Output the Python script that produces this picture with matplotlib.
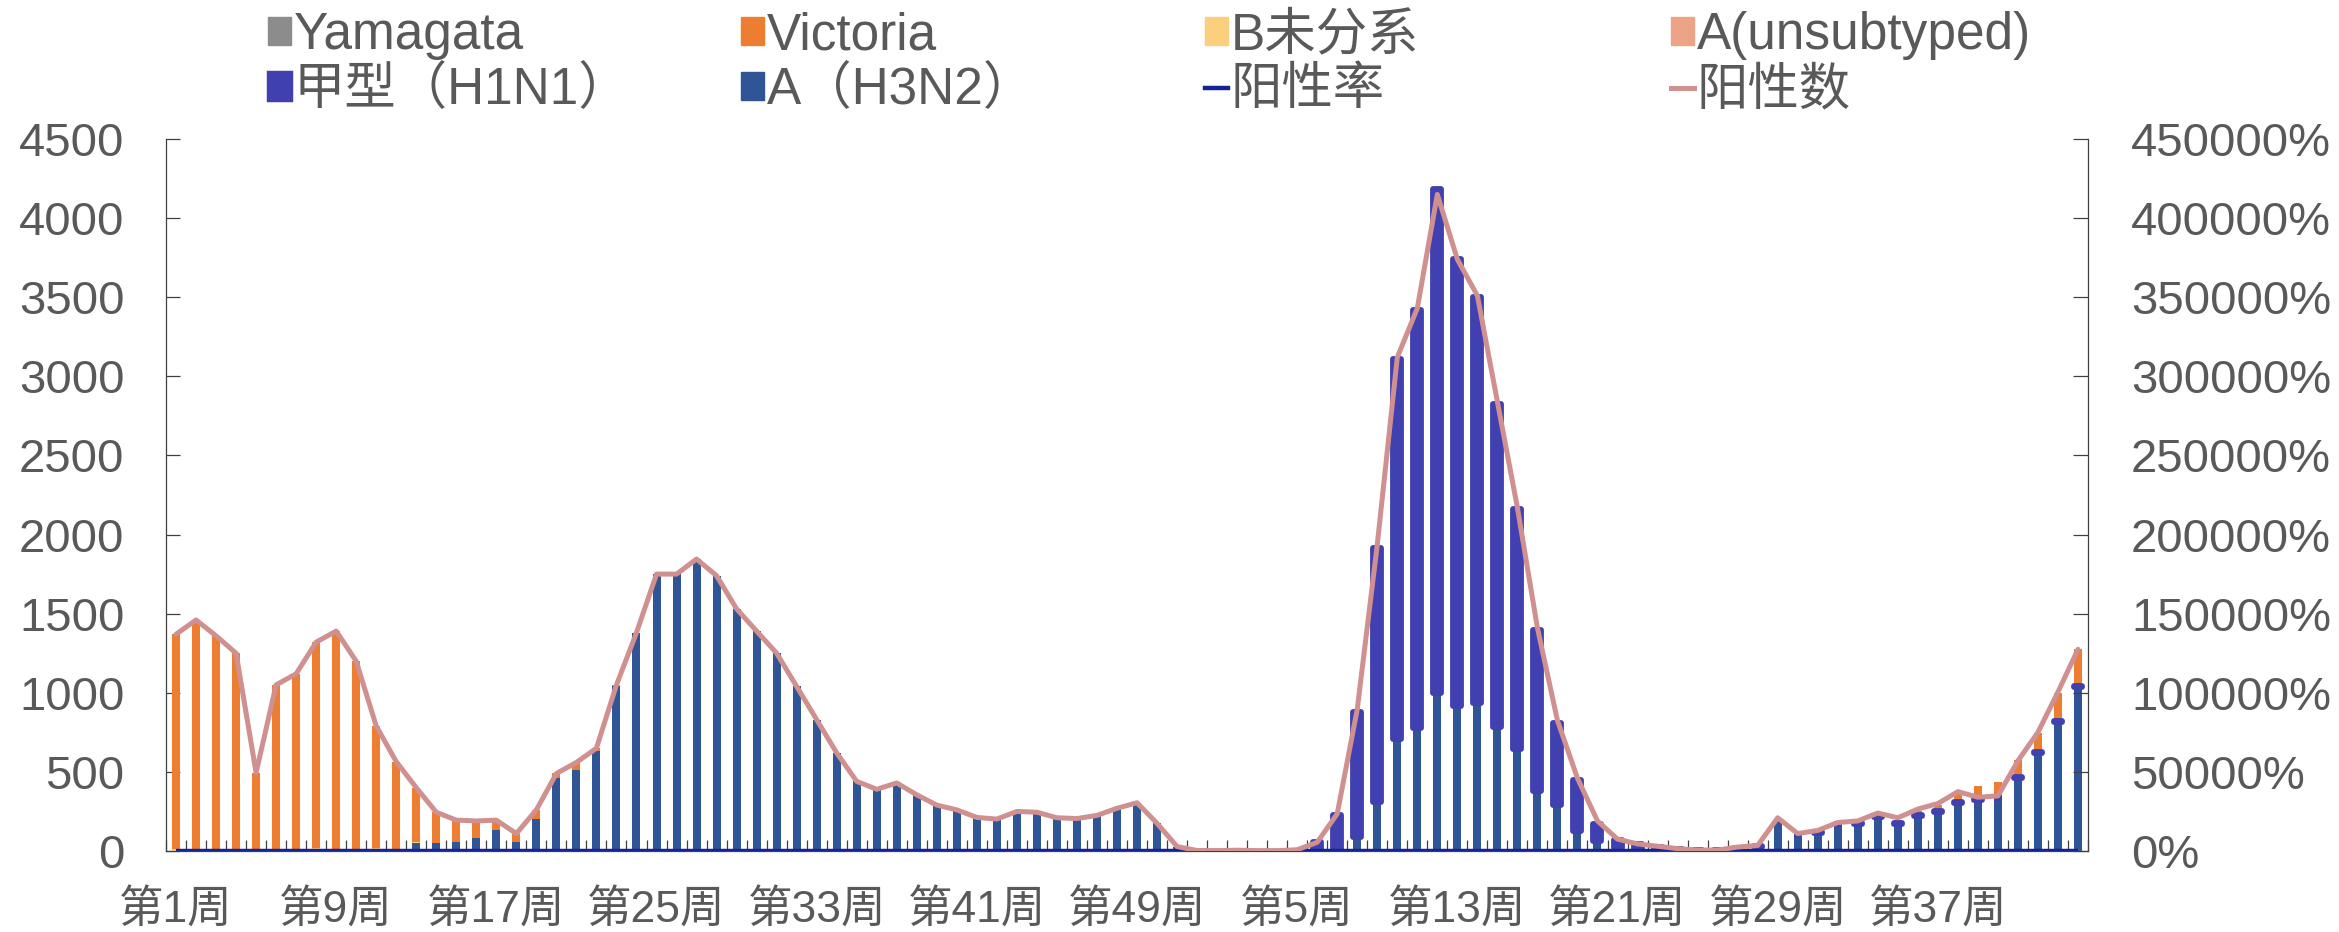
import numpy as np
import matplotlib
matplotlib.use("Agg")
import matplotlib.pyplot as plt
from matplotlib.patches import Patch
from matplotlib.lines import Line2D
from matplotlib.ticker import FuncFormatter

plt.rcParams['font.family'] = ['Liberation Sans', 'Noto Sans CJK SC']

# weeks: 52 weeks of the first season, then weeks 1-44 of the next
weeks = list(range(1, 53)) + list(range(1, 45))
week_labels = ['第%d周' % w for w in weeks]

yamagata = [
    0, 0, 0, 0, 0, 0, 0, 0, 0, 0, 0, 0,
    0, 0, 0, 0, 0, 0, 0, 0, 0, 0, 0, 0,
    0, 0, 0, 0, 0, 0, 0, 0, 0, 0, 0, 0,
    0, 0, 0, 0, 0, 0, 0, 0, 0, 0, 0, 0,
    0, 0, 0, 0, 0, 0, 0, 0, 0, 0, 0, 0,
    0, 0, 0, 0, 0, 0, 0, 0, 0, 0, 0, 0,
    0, 0, 0, 0, 0, 0, 0, 0, 0, 0, 0, 0,
    0, 0, 0, 0, 0, 0, 0, 0, 0, 0, 0, 0,
]
victoria = [
    1360, 1460, 1360, 1250, 495, 1050, 1120, 1300, 1390, 1190, 772, 555,
    342, 193, 137, 105, 65, 50, 55, 30, 40, 15, 10, 0,
    0, 0, 0, 0, 0, 0, 0, 0, 0, 0, 0, 0,
    0, 0, 0, 0, 0, 0, 0, 0, 0, 0, 0, 0,
    0, 0, 0, 0, 0, 0, 0, 0, 0, 0, 0, 0,
    0, 0, 0, 0, 0, 0, 0, 0, 0, 0, 0, 0,
    0, 0, 0, 0, 0, 0, 0, 0, 0, 0, 0, 0,
    8, 12, 20, 30, 40, 55, 85, 95, 105, 120, 170, 235,
]
b_unsub = [
    10, 0, 0, 0, 0, 0, 0, 10, 0, 5, 10, 10,
    8, 0, 0, 0, 0, 0, 0, 0, 0, 0, 0, 5,
    0, 0, 0, 0, 0, 0, 0, 0, 0, 0, 0, 0,
    0, 0, 0, 0, 0, 0, 0, 0, 0, 0, 0, 0,
    0, 0, 0, 0, 0, 0, 0, 0, 0, 0, 0, 0,
    0, 0, 0, 0, 0, 0, 0, 0, 0, 0, 0, 0,
    0, 0, 0, 0, 0, 0, 0, 0, 0, 0, 0, 0,
    0, 0, 0, 0, 0, 0, 0, 0, 0, 0, 10, 0,
]
a_unsub = [
    0, 0, 0, 0, 0, 0, 0, 0, 0, 0, 0, 0,
    0, 0, 0, 0, 0, 0, 0, 0, 0, 0, 0, 0,
    0, 0, 0, 0, 0, 0, 0, 0, 0, 0, 0, 0,
    0, 0, 0, 0, 0, 0, 0, 0, 0, 0, 0, 0,
    0, 0, 0, 0, 0, 0, 0, 0, 0, 0, 0, 0,
    0, 0, 0, 0, 0, 0, 0, 0, 0, 0, 0, 0,
    0, 0, 0, 0, 0, 0, 0, 0, 0, 0, 0, 0,
    0, 0, 0, 0, 0, 0, 0, 0, 0, 0, 0, 0,
]
h1n1 = [
    0, 0, 0, 0, 0, 0, 0, 0, 0, 0, 0, 0,
    0, 0, 0, 0, 0, 0, 0, 0, 0, 0, 0, 0,
    0, 0, 0, 0, 0, 0, 0, 0, 0, 0, 0, 0,
    0, 0, 0, 0, 0, 0, 0, 0, 0, 0, 0, 0,
    0, 0, 0, 0, 0, 0, 0, 0, 0, 55, 225, 790,
    1608, 2402, 2645, 3186, 2821, 2566, 2043, 1515, 1022, 523, 319, 112,
    50, 30, 15, 8, 3, 3, 6, 6, 0, 5, 5, 5,
    5, 5, 5, 5, 5, 5, 5, 5, 5, 5, 5, 5,
]
h3n2 = [
    0, 0, 0, 0, 0, 0, 0, 10, 0, 5, 8, 0,
    50, 52, 58, 85, 130, 60, 205, 460, 515, 635, 1040, 1375,
    1750, 1750, 1845, 1740, 1530, 1390, 1250, 1040, 830, 620, 440, 390,
    430, 355, 290, 260, 212, 202, 250, 245, 210, 205, 225, 270,
    305, 175, 25, 0, 0, 0, 0, 0, 0, 0, 5, 90,
    310, 705, 775, 1000, 918, 936, 784, 644, 377, 289, 128, 61,
    20, 12, 10, 5, 2, 2, 15, 25, 190, 105, 112, 168,
    172, 215, 172, 220, 248, 305, 322, 333, 463, 622, 815, 1037,
]
# 阳性率 (%), sits on the 0% line of the right-hand axis throughout
pos_rate = [
    0, 0, 0, 0, 0, 0, 0, 0, 0, 0, 0, 0,
    0, 0, 0, 0, 0, 0, 0, 0, 0, 0, 0, 0,
    0, 0, 0, 0, 0, 0, 0, 0, 0, 0, 0, 0,
    0, 0, 0, 0, 0, 0, 0, 0, 0, 0, 0, 0,
    0, 0, 0, 0, 0, 0, 0, 0, 0, 0, 0, 0,
    0, 0, 0, 0, 0, 0, 0, 0, 0, 0, 0, 0,
    0, 0, 0, 0, 0, 0, 0, 0, 0, 0, 0, 0,
    0, 0, 0, 0, 0, 0, 0, 0, 0, 0, 0, 0,
]
# 阳性数
pos_count = [
    1370, 1460, 1360, 1250, 495, 1050, 1120, 1320, 1390, 1200, 790, 565,
    400, 245, 195, 190, 195, 110, 260, 490, 560, 650, 1050, 1380,
    1750, 1750, 1845, 1740, 1530, 1390, 1250, 1040, 830, 620, 440, 390,
    430, 355, 290, 260, 212, 202, 250, 245, 210, 205, 225, 270,
    305, 175, 28, 3, 2, 5, 2, 2, 8, 55, 235, 895,
    1935, 3120, 3430, 4150, 3740, 3510, 2840, 2170, 1410, 825, 460, 190,
    75, 45, 30, 15, 6, 6, 25, 35, 210, 110, 130, 180,
    190, 240, 210, 265, 300, 375, 340, 348, 570, 750, 1005, 1275,
]

C_YAM = '#8C8C8C'
C_VIC = '#ED7D31'
C_B = '#FAD07F'
C_AUN = '#EDA486'
C_H1 = '#4040B0'
C_H3 = '#2F5597'
C_RATE = '#13238F'
C_CNT = '#D09090'
TXT = '#595959'
AXC = '#404040'

W, H = 2339, 932
fig = plt.figure(figsize=(W / 100, H / 100), dpi=100)
ax = fig.add_axes([166 / W, 81 / H, 1922 / W, 712 / H])
ax2 = ax.twinx()

x = np.arange(len(weeks))
bw = 0.4
bottom = np.zeros(len(x))

# stacked columns: H3N2 at the base, H1N1 above it, then the B / other types
ax.bar(x, h3n2, bw, bottom=bottom, color=C_H3, zorder=2)
bottom += np.array(h3n2)

h1 = np.array(h1n1)
sel = h1 > 0
bars = ax.bar(x[sel], h1[sel], bw, bottom=bottom[sel], color=C_H1,
              edgecolor=C_H1, linewidth=4.2, zorder=3)
for b in bars:
    b.set_joinstyle('round')
bottom += h1

for vals, col in [(a_unsub, C_AUN), (b_unsub, C_B), (victoria, C_VIC), (yamagata, C_YAM)]:
    v = np.array(vals)
    ax.bar(x, v, bw, bottom=bottom, color=col, zorder=2)
    bottom += v

# lines drawn on the twin so they sit over the bars
ax2.plot(x, pos_rate, color=C_RATE, lw=3.2, solid_capstyle='butt', zorder=4)
ax2.plot(x, pos_count, color=C_CNT, lw=3.6, solid_joinstyle='round',
         solid_capstyle='round', transform=ax.transData, zorder=5)

ax.set_xlim(-0.5, len(x) - 0.5)
ax.set_ylim(0, 4500)
ax.set_yticks(np.arange(0, 4501, 500))
ax2.set_ylim(0, 450000)
ax2.set_yticks(np.arange(0, 450001, 50000))
ax2.yaxis.set_major_formatter(FuncFormatter(lambda v, p: '%d%%' % v))

ax.set_xticks(x[::8])
ax.set_xticklabels(week_labels[::8])
ax.set_xticks(np.arange(-0.5, len(x), 1), minor=True)
ax.tick_params(axis='x', which='major', length=0, labelsize=32,
               labelcolor=TXT, pad=27)
ax.tick_params(axis='x', which='minor', direction='in', length=8,
               width=0.9, color=AXC)
ax.tick_params(axis='y', direction='in', length=10, width=0.9, color=AXC,
               labelsize=34, labelcolor=TXT, pad=30)
ax2.tick_params(axis='y', direction='in', length=10.5, width=0.9, color=AXC,
                labelsize=34, labelcolor=TXT, pad=31)

for s in ['top', 'right']:
    ax.spines[s].set_visible(False)
for s in ['top', 'left', 'bottom']:
    ax2.spines[s].set_visible(False)
for sp in [ax.spines['left'], ax.spines['bottom'], ax2.spines['right']]:
    sp.set_color(AXC)
    sp.set_linewidth(0.9)

# legend: four columns of two rows each
entries = [
    [(Patch(color=C_YAM), 'Yamagata'),
     (Patch(facecolor=C_H1, edgecolor=C_H1, linewidth=2.5, joinstyle='round'), '甲型（H1N1）')],
    [(Patch(color=C_VIC), 'Victoria'), (Patch(color=C_H3), 'A（H3N2）')],
    [(Patch(color=C_B), 'B未分系'), (Line2D([], [], color=C_RATE, lw=3.2), '阳性率')],
    [(Patch(color=C_AUN), 'A(unsubtyped)'), (Line2D([], [], color=C_CNT, lw=3.6), '阳性数')],
]
col_x = [268, 741, 1205, 1671]
for cx, ent in zip(col_x, entries):
    fig.legend([e[0] for e in ent], [e[1] for e in ent], loc='upper left',
               bbox_to_anchor=(cx / W, 1 - 11 / H), frameon=False,
               fontsize=37, labelcolor=TXT, handlelength=0.45,
               handleheight=0.45, handletextpad=0.05, labelspacing=0.12,
               borderpad=0, borderaxespad=0)

fig.savefig('out.png', dpi=100)
